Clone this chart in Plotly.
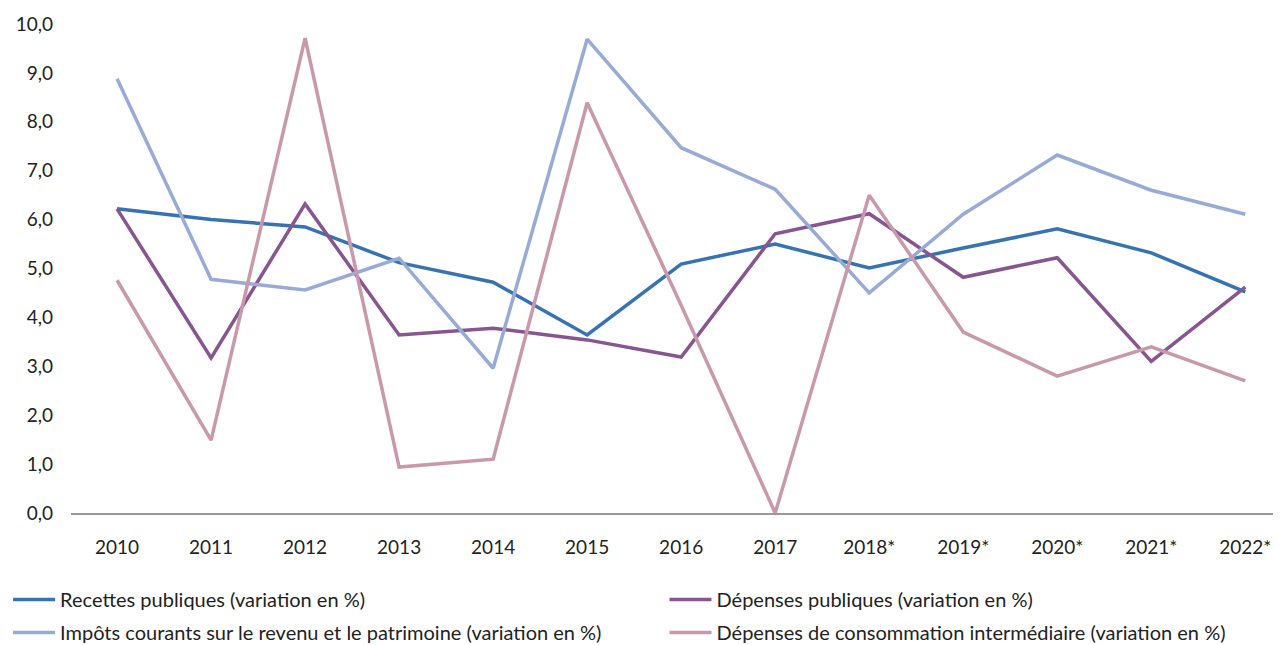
import plotly.graph_objects as go

years = ["2010", "2011", "2012", "2013", "2014", "2015", "2016", "2017",
         "2018*", "2019*", "2020*", "2021*", "2022*"]

recettes = [6.22, 6.0, 5.85, 5.12, 4.72, 3.64, 5.09, 5.5, 5.01, 5.42, 5.81, 5.32, 4.52]
depenses = [6.22, 3.17, 6.32, 3.64, 3.78, 3.54, 3.19, 5.71, 6.12, 4.82, 5.22, 3.1, 4.62]
impots = [8.88, 4.78, 4.56, 5.21, 2.96, 9.69, 7.47, 6.62, 4.5, 6.11, 7.32, 6.6, 6.11]
conso = [4.76, 1.49, 9.71, 0.94, 1.1, 8.39, 4.25, 0.0, 6.5, 3.7, 2.8, 3.4, 2.7]

# (name, values, colour, which legend column)
series = [
    ("Recettes publiques (variation en %)", recettes, "#3673b0", "legend"),
    ("Dépenses publiques (variation en %)", depenses, "#87558f", "legend2"),
    ("Impôts courants sur le revenu et le patrimoine (variation en %)", impots, "#97abd4", "legend"),
    ("Dépenses de consommation intermédiaire (variation en %)", conso, "#c899ab", "legend2"),
]

fig = go.Figure()
for i, (name, vals, color, leg) in enumerate(series):
    fig.add_trace(go.Scatter(
        x=years, y=vals, name=name, mode="lines",
        line=dict(color=color, width=3.5),
        legend=leg, legendgroup=f"g{i}",
        cliponaxis=False,
    ))

leg_style = dict(
    orientation="v", yanchor="top", xanchor="left",
    font=dict(family="Lato", size=20, color="#222222"),
    tracegroupgap=4, itemwidth=42, bgcolor="rgba(0,0,0,0)",
)

# page body has an 8px margin, so the figure is 8px smaller than the window
fig.update_layout(
    width=1273, height=637,
    margin=dict(l=63, r=0, t=16, b=132, autoexpand=False),
    plot_bgcolor="white", paper_bgcolor="white",
    font=dict(family="Lato", size=19, color="#222222"),
    showlegend=True,
    legend=dict(x=-0.052, y=-0.137, **leg_style),
    legend2=dict(x=0.4905, y=-0.137, **leg_style),
    xaxis=dict(
        type="category", range=[-0.49, 12.38],
        showgrid=False, showline=True, linecolor="#999999", linewidth=2,
        ticks="", tickfont=dict(size=19, color="#222222"),
        ticklabelstandoff=16, automargin=False,
    ),
    yaxis=dict(
        range=[0, 10], dtick=1, tickformat=".1f",
        showgrid=False, zeroline=False, showline=False,
        ticks="", tickfont=dict(size=19, color="#222222"),
        ticklabelstandoff=17, automargin=False,
    ),
    separators=", ",
)

fig.write_html("out.html")
